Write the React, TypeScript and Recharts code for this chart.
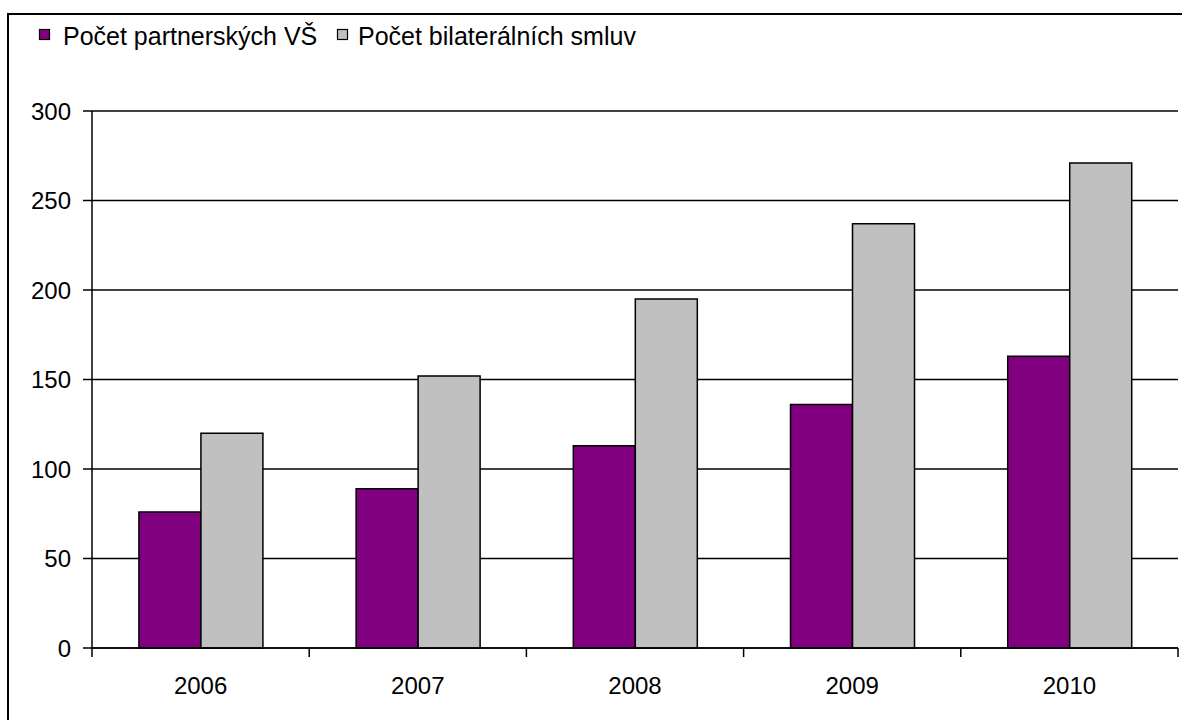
import React from 'react';
import { BarChart, Bar, XAxis, YAxis, CartesianGrid } from 'recharts';

const years = ['2006', '2007', '2008', '2009', '2010'];
const partnerCounts = [76, 89, 113, 136, 163];
const agreementCounts = [120, 152, 195, 237, 271];
const yTicks = [0, 50, 100, 150, 200, 250, 300];
const seriesNames = ['Počet partnerských VŠ', 'Počet bilaterálních smluv'];
const seriesColors = ['#800080', '#C0C0C0'];

const data = years.map((year, i) => ({
  year,
  partners: partnerCounts[i],
  agreements: agreementCounts[i],
}));

const W = 1182;
const H = 720;
const MARGIN = { top: 111, right: 4, bottom: 12, left: 32 };
const Y_AXIS_W = 60;
const X_AXIS_H = 60;
const X_TICK_SIZE = 9;
const X_TICK_MARGIN = 20;
const FONT = '"Liberation Sans", Arial, sans-serif';

const XTick = (props: any) => {
  const { x, y, payload, index, visibleTicksCount, width } = props;
  const count = visibleTicksCount || years.length;
  const axisW = width || W - MARGIN.left - MARGIN.right - Y_AXIS_W;
  const half = axisW / count / 2;
  const axisY = y - X_TICK_SIZE - X_TICK_MARGIN;
  return (
    <g>
      <line x1={x - half} x2={x - half} y1={axisY} y2={axisY + X_TICK_SIZE} stroke="#000" strokeWidth={1.5} />
      {index === count - 1 && (
        <line x1={x + half} x2={x + half} y1={axisY} y2={axisY + X_TICK_SIZE} stroke="#000" strokeWidth={1.5} />
      )}
      <text x={x} y={y} dy="0.71em" textAnchor="middle" fontSize={24} fill="#000" fontFamily={FONT}>
        {payload.value}
      </text>
    </g>
  );
};

export default function App() {
  return (
    <div
      style={{
        position: 'absolute',
        left: 0,
        top: 0,
        width: W,
        height: H,
        overflow: 'hidden',
        background: '#fff',
        fontFamily: FONT,
      }}
    >
      <div
        style={{
          position: 'absolute',
          left: 7,
          top: 13,
          width: 1300,
          height: 900,
          border: '2px solid #000',
        }}
      />
      <div style={{ position: 'absolute', left: 0, top: 0 }}>
        <BarChart width={W} height={H} data={data} margin={MARGIN} barGap={0} barCategoryGap="21.6%">
          <CartesianGrid vertical={false} horizontal={true} stroke="#000" strokeWidth={1.5} />
          <XAxis
            dataKey="year"
            height={X_AXIS_H}
            interval={0}
            tickLine={false}
            tickSize={X_TICK_SIZE}
            tickMargin={X_TICK_MARGIN}
            axisLine={{ stroke: '#000', strokeWidth: 1.5 }}
            tick={<XTick />}
          />
          <YAxis
            width={Y_AXIS_W}
            domain={[0, 300]}
            ticks={yTicks}
            interval={0}
            tickSize={9}
            tickMargin={12}
            axisLine={{ stroke: '#000', strokeWidth: 1.5 }}
            tickLine={{ stroke: '#000', strokeWidth: 1.5 }}
            tick={{ fill: '#000', fontSize: 24, fontFamily: FONT }}
          />
          <Bar dataKey="partners" name={seriesNames[0]} fill={seriesColors[0]} stroke="#000" strokeWidth={1.5} isAnimationActive={false} />
          <Bar dataKey="agreements" name={seriesNames[1]} fill={seriesColors[1]} stroke="#000" strokeWidth={1.5} isAnimationActive={false} />
        </BarChart>
      </div>
      <svg width={W} height={60} style={{ position: 'absolute', left: 0, top: 0 }}>
        <rect x={39.5} y={29.5} width={10} height={10} fill={seriesColors[0]} stroke="#000" strokeWidth={1.2} />
        <text x={63} y={45} fontSize={25} fill="#000" fontFamily={FONT}>
          {seriesNames[0]}
        </text>
        <rect x={337.5} y={29.5} width={10} height={10} fill={seriesColors[1]} stroke="#000" strokeWidth={1.2} />
        <text x={358} y={45} fontSize={25} fill="#000" fontFamily={FONT}>
          {seriesNames[1]}
        </text>
      </svg>
    </div>
  );
}
